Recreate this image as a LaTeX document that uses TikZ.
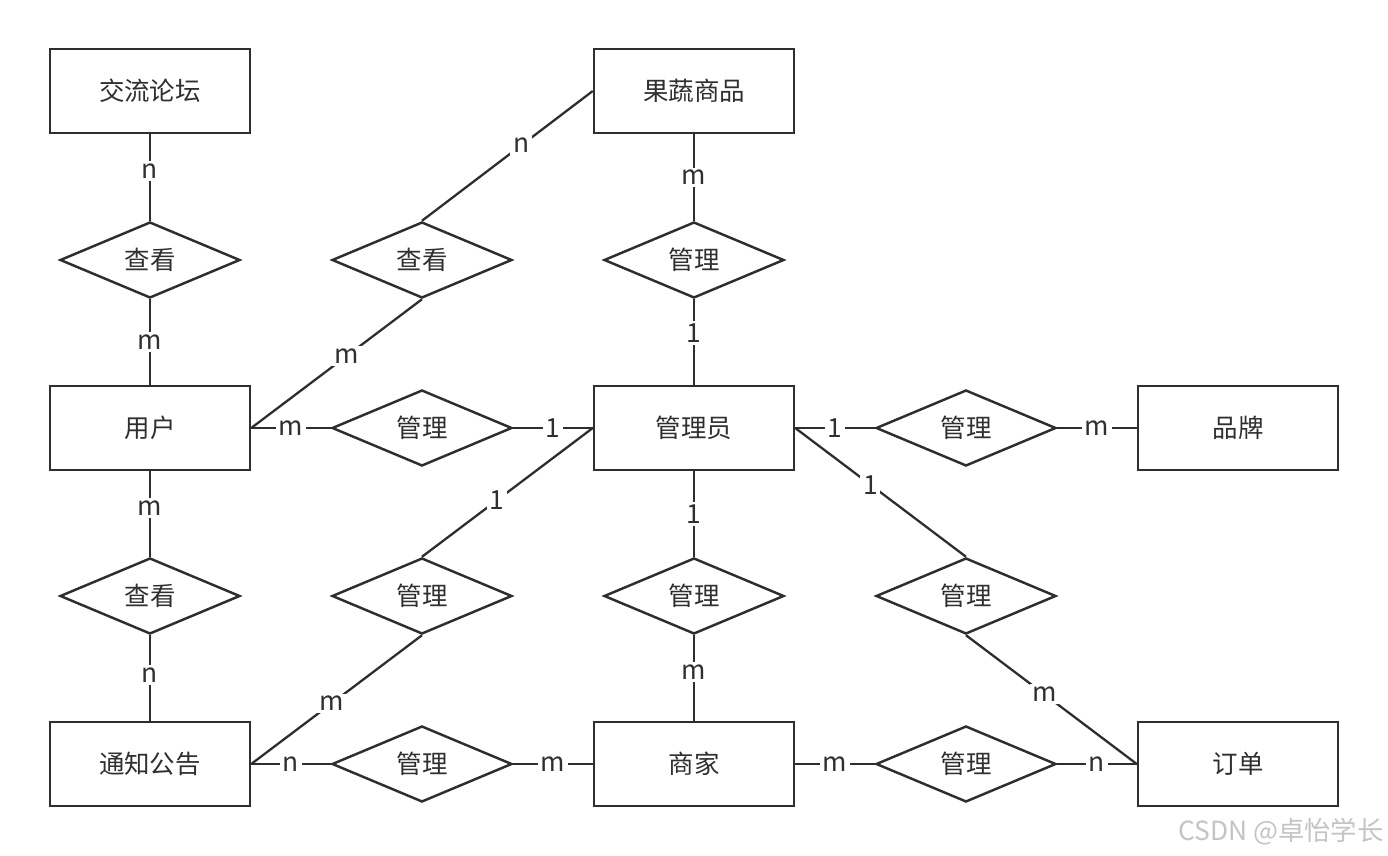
\documentclass[tikz,border=0pt]{standalone}
\usepackage{fontspec}
\setmainfont{Noto Sans CJK SC}
\usepackage{xcolor}
\usetikzlibrary{
positioning,
shapes.geometric
}
\definecolor{ERline}{HTML}{2E2E2E}
\definecolor{ERtext}{HTML}{2F2F2F}
\definecolor{ERmark}{HTML}{C4C4C4}

\begin{document}
\begin{tikzpicture}[
    x=1cm,
    y=1cm,
    font=\fontsize{14.5}{16}\selectfont,
    entity/.style={
        draw=ERline,
        line width=1.4pt,
        minimum width=4cm,
        minimum height=1.68cm,
        inner sep=0pt,
        text=ERtext
    },
    relation/.style={
        diamond,
        draw=ERline,
        line width=1.4pt,
        minimum width=3.6cm,
        minimum height=1.52cm,
        inner sep=0pt,
        text=ERtext
    },
    link/.style={
        draw=ERline,
        line width=1.3pt
    },
    card/.style={
        fill=white,
        text=ERtext,
        inner sep=1.5pt,
        font=\fontsize{15}{16}\selectfont
    }
]

% Background
\fill[white] (0,0) rectangle (27.76,-17.12);
\useasboundingbox (0,0) rectangle (27.76,-17.12);

% Entities
\foreach \x/\y/\name/\lab in {
3.00/-1.82/forum/交流论坛,
13.88/-1.82/goods/果蔬商品,
3.00/-8.56/user/用户,
13.88/-8.56/admin/管理员,
24.76/-8.56/brand/品牌,
3.00/-15.28/notice/通知公告,
13.88/-15.28/shop/商家,
24.76/-15.28/order/订单
}{
    \node[entity] (\name) at (\x,\y) {\lab};
}

% Relations
\foreach \x/\y/\name/\lab in {
3.00/-5.20/seeForum/查看,
8.44/-5.20/seeGoods/查看,
13.88/-5.20/mgGoods/管理,
8.44/-8.56/mgUser/管理,
19.32/-8.56/mgBrand/管理,
3.00/-11.92/seeNotice/查看,
8.44/-11.92/mgNotice/管理,
13.88/-11.92/mgShop/管理,
19.32/-11.92/mgOrder/管理,
8.44/-15.28/noticeShop/管理,
19.32/-15.28/shopOrder/管理
}{
    \node[relation] (\name) at (\x,\y) {\lab};
}

% Connectors with cardinalities
\draw[link] (forum.south) -- node[card, pos=0.43] {n} (seeForum.north);
\draw[link] (seeForum.south) -- node[card] {m} (user.north);

\draw[link] (user.east) -- node[card, pos=0.56] {m} (seeGoods.south);
\draw[link] (seeGoods.north) -- node[card, pos=0.58] {n} (goods.west);

\draw[link] (goods.south) -- node[card] {m} (mgGoods.north);
\draw[link] (mgGoods.south) -- node[card, pos=0.4] {1} (admin.north);

\draw[link] (user.east) -- node[card] {m} (mgUser.west);
\draw[link] (mgUser.east) -- node[card] {1} (admin.west);

\draw[link] (admin.east) -- node[card] {1} (mgBrand.west);
\draw[link] (mgBrand.east) -- node[card] {m} (brand.west);

\draw[link] (user.south) -- node[card, pos=0.43] {m} (seeNotice.north);
\draw[link] (seeNotice.south) -- node[card, pos=0.47] {n} (notice.north);

\draw[link] (admin.west) -- node[card, pos=0.56] {1} (mgNotice.north);
\draw[link] (mgNotice.south) -- node[card, pos=0.53] {m} (notice.east);

\draw[link] (admin.south) -- node[card] {1} (mgShop.north);
\draw[link] (mgShop.south) -- node[card, pos=0.43] {m} (shop.north);

\draw[link] (admin.east) -- node[card, pos=0.44] {1} (mgOrder.north);
\draw[link] (mgOrder.south) -- node[card, pos=0.46] {m} (order.west);

\draw[link] (notice.east) -- node[card] {n} (noticeShop.west);
\draw[link] (noticeShop.east) -- node[card] {m} (shop.west);

\draw[link] (shop.east) -- node[card] {m} (shopOrder.west);
\draw[link] (shopOrder.east) -- node[card] {n} (order.west);

% Watermark
\node[
    text=ERmark,
    font=\fontsize{15}{16}\selectfont
] (mark) at (25.62,-16.64) {CSDN @卓怡学长};

\end{tikzpicture}
\end{document}
